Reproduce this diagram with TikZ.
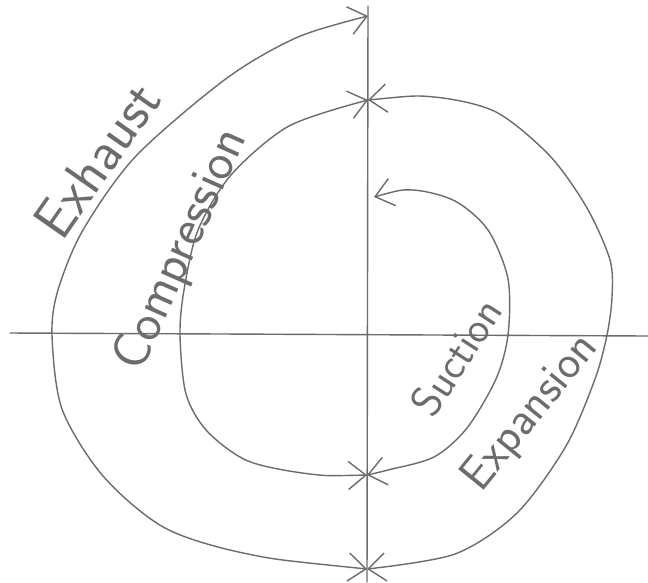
\documentclass[tikz,border=0pt]{standalone}
\usetikzlibrary{arrows.meta}
\begin{document}
\begin{tikzpicture}[x=0.02cm,y=-0.02cm,
  >={Straight Barb[length=10pt,width=16pt]},
  pencil/.style={draw=gray!85!black,line width=0.8pt,line cap=round,line join=round},
  stroke/.style={text=gray!85!black,inner sep=0pt,font=\sffamily\fontsize{#1}{#1}\selectfont}]
\fill[white] (0,0) rectangle (648,582);
\useasboundingbox (0,0) rectangle (648,582);
% axes
\coordinate (W) at (10,333);
\coordinate (E) at (648,336);
\coordinate (N) at (368,6);
\coordinate (S) at (367,582);
\draw[pencil] (W) -- (E);
\draw[pencil] (N) -- (S);
% where the strokes meet the axis
\coordinate (to) at (368,16);
\coordinate (ti) at (368,100);
\coordinate (si) at (374,197);
\coordinate (bi) at (367,475);
\coordinate (bo) at (367,569);
% exhaust
\draw[pencil,<->] plot[smooth] coordinates {(bo) (248,554) (165,528) (103,476) (62,409) (52,335) (58,290) (83,230) (136,156) (227,78) (298,37) (to)};
% expansion
\draw[pencil,<->] plot[smooth] coordinates {(ti) (434,97) (496,112) (550,156) (587,208) (610,260) (612,297) (607,335) (595,379) (566,446) (517,513) (455,554) (bo)};
% compression
\draw[pencil,<->] plot[smooth] coordinates {(bi) (310,474) (248,461) (207,431) (186,394) (180,335) (184,290) (198,230) (231,175) (289,126) (ti)};
% suction
\draw[pencil,<->] plot[smooth] coordinates {(si) (413,190) (455,201) (488,230) (508,279) (508,335) (496,379) (467,428) (434,457) (388,470) (bi)};
\node[stroke=32,rotate=55] (exh) at (97,160) {Exhaust};
\node[stroke=30,rotate=66] (comp) at (182,250) {Compression};
\node[stroke=25,rotate=57] (suc) at (456,357) {Suction};
\node[stroke=27,rotate=51] (expn) at (531,413) {Expansion};
\end{tikzpicture}
\end{document}
